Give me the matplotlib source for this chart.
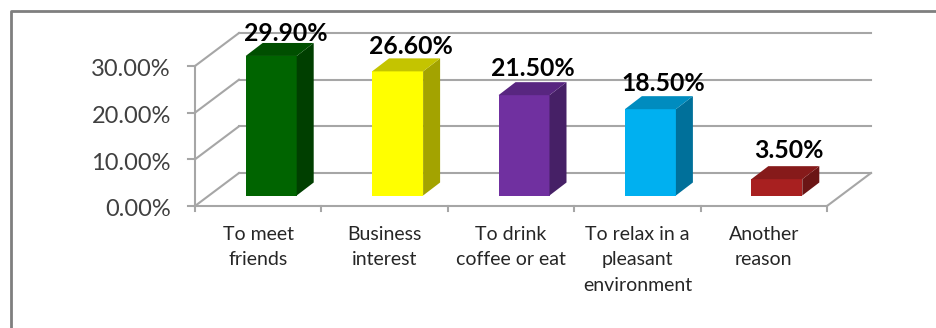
import matplotlib
matplotlib.use("Agg")
import matplotlib.pyplot as plt
from matplotlib.patches import Polygon

categories = [
    "To meet\nfriends",
    "Business\ninterest",
    "To drink\ncoffee or eat",
    "To relax in a\npleasant\nenvironment",
    "Another\nreason",
]
values = [29.9, 26.6, 21.5, 18.5, 3.5]
value_labels = ["29.90%", "26.60%", "21.50%", "18.50%", "3.50%"]
y_ticks = [0, 10, 20, 30]
y_tick_labels = ["0.00%", "10.00%", "20.00%", "30.00%"]

front_colors = ["#006400", "#FFFF00", "#7030A0", "#00B0F0", "#A82020"]
top_colors = ["#004F00", "#C4C400", "#582680", "#008CBF", "#861A1A"]
side_colors = ["#003F00", "#A3A300", "#462066", "#00709A", "#6B1515"]

W, H = 936, 328
GRID = "#A6A6A6"
plt.rcParams["font.family"] = ["Lato", "DejaVu Sans"]

fig = plt.figure(figsize=(W / 100, H / 100), dpi=100)

# frame around the whole chart
fig.add_artist(plt.Line2D([11 / W, 11 / W, 1], [0, 1 - 11 / H, 1 - 11 / H],
                          color="#7F7F7F", lw=2))

# front plane of the 3D box: categories on x, percent on y
ax = fig.add_axes([195 / W, 1 - 206 / H, 632 / W, 140 / H])
ax.set_xlim(0, 5)
ax.set_ylim(0, 30)
ax.axis("off")

px_x = 5 / 632
px_y = 30 / 140
wall_dx, wall_dy = 44 * px_x, 33 * px_y
bar_dx, bar_dy = 17 * px_x, 13 * px_y
base_dx, base_dy = 13 * px_x, 10.5 * px_y
bar_w = 51 * px_x
# label placement relative to each bar, in pixels
label_lift = [2, 4, 6, 5, 8]
label_shift = [15, 13, 9, 13, 12.5]

# floor edges and back wall gridlines
for t, tick_label in zip(y_ticks, y_tick_labels):
    ax.plot([wall_dx, 5 + wall_dx], [t + wall_dy] * 2, color=GRID, lw=1.5,
            clip_on=False, zorder=1)
    ax.plot([0, wall_dx], [t, t + wall_dy], color=GRID, lw=1.5, clip_on=False, zorder=1)
    ax.plot([-7 * px_x, 0], [t, t], color=GRID, lw=1.5, clip_on=False, zorder=1)
    ax.text(-24 * px_x, t - 4 * px_y, tick_label, ha="right", va="center",
            fontsize=17, color="#404040", clip_on=False)
ax.plot([0, 0], [0, 30], color=GRID, lw=1.5, clip_on=False, zorder=1)
ax.plot([0, 5], [0, 0], color=GRID, lw=1.5, clip_on=False, zorder=1)
ax.plot([5, 5 + wall_dx], [0, wall_dy], color=GRID, lw=1.5, clip_on=False, zorder=1)

# category ticks under the floor
for i in range(6):
    ax.plot([i, i], [0, -5 * px_y], color=GRID, lw=1.5, clip_on=False, zorder=1)

for i, v in enumerate(values):
    x0 = i + 0.5 - bar_w / 2 + base_dx
    x1 = x0 + bar_w
    y0 = base_dy
    y1 = base_dy + v
    ax.add_patch(Polygon([(x0, y0), (x1, y0), (x1, y1), (x0, y1)],
                         color=front_colors[i], lw=0, clip_on=False, zorder=3))
    ax.add_patch(Polygon([(x1, y0), (x1 + bar_dx, y0 + bar_dy), (x1 + bar_dx, y1 + bar_dy), (x1, y1)],
                         color=side_colors[i], lw=0, clip_on=False, zorder=3))
    ax.add_patch(Polygon([(x0, y1), (x1, y1), (x1 + bar_dx, y1 + bar_dy), (x0 + bar_dx, y1 + bar_dy)],
                         color=top_colors[i], lw=0, clip_on=False, zorder=3))
    ax.text((x0 + x1) / 2 + label_shift[i] * px_x, y1 + bar_dy + label_lift[i] * px_y, value_labels[i],
            ha="center", va="baseline", fontsize=17.8, fontweight="bold", color="black",
            clip_on=False, zorder=4)
    ax.text(i + 0.5, -20 * px_y, categories[i], ha="center", va="top", fontsize=14,
            color="#262626", linespacing=1.6, clip_on=False)

fig.savefig("out.png", dpi=100)
